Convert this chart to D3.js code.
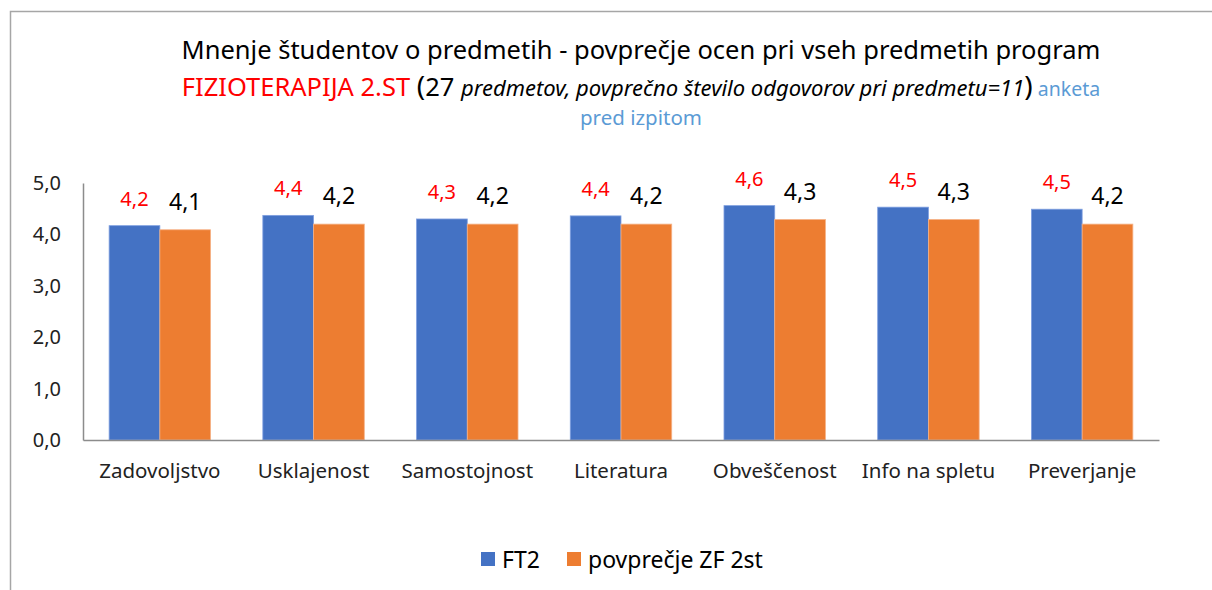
<!DOCTYPE html>
<meta charset="utf-8">

<script src="https://d3js.org/d3.v7.min.js"></script>

<style type="text/css">
  body { margin: 0; background: #fff; }
  svg { font-family: "Noto Sans", "Open Sans", sans-serif; }
</style>

<body>
</body>

<script>

var categories = ["Zadovoljstvo", "Usklajenost", "Samostojnost", "Literatura", "Obveščenost", "Info na spletu", "Preverjanje"];
var seriesNames = ["FT2", "povprečje ZF 2st"];
var ft2 = [4.17, 4.37, 4.30, 4.36, 4.56, 4.53, 4.49];
var zf2st = [4.09, 4.20, 4.20, 4.20, 4.29, 4.29, 4.20];
var yTicks = [0, 1, 2, 3, 4, 5];

var colors = ["#4472C4", "#ED7D31"];

var width = 1212, height = 590;
var margin = {top: 183, right: 53, bottom: 150, left: 83};
var innerW = width - margin.left - margin.right,
    innerH = height - margin.top - margin.bottom;

var svg = d3.select("body").append("svg")
    .attr("width", width)
    .attr("height", height);

// outer frame (only left and top edges visible)
svg.append("path")
    .attr("d", "M10.5,590 V11.5 H1212")
    .attr("fill", "none")
    .attr("stroke", "#a6a6a6")
    .attr("stroke-width", 1.5);

var fmt = function(d) { return d3.format(".1f")(d).replace(".", ","); };

var x0 = d3.scaleBand()
    .domain(categories)
    .range([0, innerW])
    .paddingInner(0.34)
    .paddingOuter(0.17);

var x1 = d3.scaleBand()
    .domain(seriesNames)
    .range([0, x0.bandwidth()]);

var y = d3.scaleLinear()
    .domain([0, 5])
    .range([innerH, 0]);

var g = svg.append("g")
    .attr("transform", "translate(" + margin.left + "," + margin.top + ")");

var rows = categories.map(function(c, i) { return {cat: c, vals: [ft2[i], zf2st[i]]}; });

var groups = g.selectAll(".grp")
    .data(rows)
  .enter().append("g")
    .attr("class", "grp")
    .attr("transform", function(d) { return "translate(" + x0(d.cat) + ",0)"; });

groups.selectAll("rect")
    .data(function(d) { return d.vals.map(function(v, k) { return {s: seriesNames[k], v: v, k: k}; }); })
  .enter().append("rect")
    .attr("x", function(d) { return x1(d.s); })
    .attr("y", function(d) { return y(d.v); })
    .attr("width", x1.bandwidth())
    .attr("height", function(d) { return innerH - y(d.v); })
    .attr("fill", function(d) { return colors[d.k]; })
    .attr("stroke", function(d) { return d.k == 0 ? "#7f9fe0" : "#f5b287"; })
    .attr("stroke-width", 0.8);

groups.selectAll(".lbl")
    .data(function(d) { return d.vals.map(function(v, k) { return {s: seriesNames[k], v: v, k: k}; }); })
  .enter().append("text")
    .attr("class", "lbl")
    .attr("x", function(d) { return x1(d.s) + x1.bandwidth() / 2; })
    .attr("y", function(d) { return y(d.v) - 20; })
    .attr("text-anchor", "middle")
    .attr("font-size", function(d) { return d.k == 0 ? "20px" : "23px"; })
    .attr("fill", function(d) { return d.k == 0 ? "#ff0000" : "#000"; })
    .text(function(d) { return fmt(d.v); });

// y axis
var yAxis = g.append("g")
    .call(d3.axisLeft(y).tickValues(yTicks).tickSize(0).tickPadding(22).tickFormat(fmt));
yAxis.select(".domain").attr("stroke", "#8c8c8c").attr("stroke-width", 1.5);
yAxis.selectAll("text").attr("font-size", "20px").attr("fill", "#222").attr("font-family", "Noto Sans");

// x axis
var xAxis = g.append("g")
    .attr("transform", "translate(0," + innerH + ")")
    .call(d3.axisBottom(x0).tickSize(0).tickPadding(23));
xAxis.select(".domain").attr("stroke", "#8c8c8c").attr("stroke-width", 1.5);
xAxis.selectAll("text").attr("font-size", "20.5px").attr("fill", "#222").attr("font-family", "Noto Sans");

// title
svg.append("text")
    .attr("x", 641)
    .attr("y", 59)
    .attr("text-anchor", "middle")
    .attr("font-size", "25.5px")
    .attr("fill", "#000")
    .text("Mnenje študentov o predmetih - povprečje ocen pri vseh predmetih program");

var t2 = svg.append("text")
    .attr("x", 641)
    .attr("y", 96)
    .attr("text-anchor", "middle")
    .attr("font-size", "25.5px");
t2.append("tspan").attr("fill", "#ff0000").text("FIZIOTERAPIJA 2.ST ");
t2.append("tspan").attr("fill", "#000").attr("font-size", "28px").text("(");
t2.append("tspan").attr("fill", "#000").text("27 ");
t2.append("tspan").attr("fill", "#000").attr("font-style", "italic").attr("font-size", "22px")
    .text("predmetov, povprečno število odgovorov pri predmetu=11");
t2.append("tspan").attr("fill", "#000").attr("font-size", "28px").text(")");
t2.append("tspan").attr("fill", "#5B9BD5").attr("font-size", "19.5px").text(" anketa");

svg.append("text")
    .attr("x", 641)
    .attr("y", 125)
    .attr("text-anchor", "middle")
    .attr("font-size", "20.5px")
    .attr("fill", "#5B9BD5")
    .text("pred izpitom");

// legend
var legend = svg.append("g").attr("transform", "translate(481,552)");
var legX = [0, 86];
seriesNames.forEach(function(s, k) {
  legend.append("rect")
      .attr("x", legX[k]).attr("y", 0)
      .attr("width", 14).attr("height", 14)
      .attr("fill", colors[k]);
  legend.append("text")
      .attr("x", legX[k] + 21).attr("y", 16)
      .attr("font-size", "23px")
      .attr("fill", "#000")
      .text(s);
});

</script>
